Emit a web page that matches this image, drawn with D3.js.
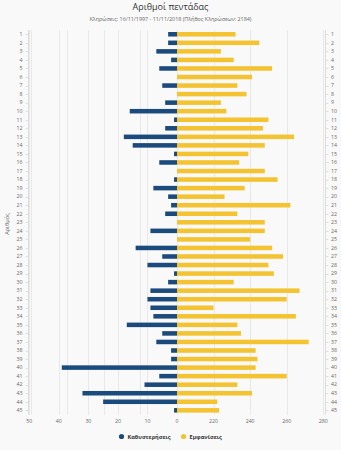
<!DOCTYPE html>
<html><head><meta charset="utf-8">
<script src="https://cdn.jsdelivr.net/npm/d3@7"></script>
<style>body{margin:0;background:#f9f9f9;}svg{display:block;font-family:"Open Sans","DejaVu Sans",sans-serif;}</style>
</head><body>
<svg id="c" width="341" height="450"></svg>
<script>
const numbers = d3.range(1, 46);
const delays = [3,3,7,2,6,0,5,0,4,16,1,4,18,15,1,6,0,1,8,3,2,4,0,9,0,14,5,10,1,3,9,10,9,8,17,5,7,2,2,39,6,11,32,25,1];
const appearances = [232,245,224,231,252,241,233,238,224,227,250,247,264,248,239,234,248,255,237,226,262,233,248,248,240,252,258,250,253,231,267,260,220,265,233,235,272,243,244,243,260,233,241,222,223];
const delayTicks = [50,40,30,20,10,0];
const appTicks = [120,140,160,180,200,220,240,260,280];
const appLabelTicks = [220,240,260,280];
const seriesNames = ["Καθυστερήσεις","Εμφανίσεις"];
const colors = ["#1b4a7c","#f4c331"];

const svg = d3.select("#c");
const W = 341;
const pLeft = 28.5, pRight = 325.5, pTop = 30, pBottom = 414.6;
const center = 177;

const xDelay = d3.scaleLinear().domain([50, 0]).range([29.3, center]);
const xApp = d3.scaleLinear().domain([200, 280]).range([center, 323.3]);
const y = d3.scaleBand().domain(numbers).range([pTop, pBottom]).paddingInner(0.47).paddingOuter(0.235);

svg.append("text").attr("x", W/2).attr("y", 10).attr("text-anchor","middle")
  .attr("font-size", 9).attr("fill","#333").text("Αριθμοί πεντάδας");
svg.append("text").attr("x", W/2).attr("y", 21).attr("text-anchor","middle")
  .attr("font-size", 5.4).attr("fill","#666").text("Κληρώσεις: 16/11/1997 - 11/11/2018 (Πλήθος Κληρώσεων: 2184)");

// gridlines
const g = svg.append("g");
g.selectAll("line.gd").data(delayTicks).join("line")
  .attr("x1", d => Math.round(xDelay(d))+0.5).attr("x2", d => Math.round(xDelay(d))+0.5)
  .attr("y1", pTop).attr("y2", pBottom).attr("stroke","#e8e8e8").attr("stroke-width",1);
g.selectAll("line.ga").data(appTicks).join("line")
  .attr("x1", d => Math.round(xApp(d))+0.5).attr("x2", d => Math.round(xApp(d))+0.5)
  .attr("y1", pTop).attr("y2", pBottom).attr("stroke","#e8e8e8").attr("stroke-width",1);

// axis lines
[pLeft, pRight].forEach(x => svg.append("line").attr("x1",x).attr("x2",x).attr("y1",pTop).attr("y2",pBottom).attr("stroke","#dcdcdc"));

// category labels
const lab = svg.append("g").attr("font-size", 5.2).attr("fill","#666");
lab.selectAll("text.l").data(numbers).join("text")
  .attr("x", 22.5).attr("y", d => y(d) + y.bandwidth()/2 + 1.8).attr("text-anchor","end").text(d => d);
lab.selectAll("text.r").data(numbers).join("text")
  .attr("x", 331).attr("y", d => y(d) + y.bandwidth()/2 + 1.8).attr("text-anchor","start").text(d => d);
svg.append("g").selectAll("line").data(numbers).join("line")
  .attr("x1", pLeft-3).attr("x2", pLeft).attr("y1", d => Math.round(y(d)+y.bandwidth()/2)+0.5).attr("y2", d => Math.round(y(d)+y.bandwidth()/2)+0.5)
  .attr("stroke","#e0e0e0");
svg.append("g").selectAll("line").data(numbers).join("line")
  .attr("x1", pRight).attr("x2", pRight+3).attr("y1", d => Math.round(y(d)+y.bandwidth()/2)+0.5).attr("y2", d => Math.round(y(d)+y.bandwidth()/2)+0.5)
  .attr("stroke","#e0e0e0");

svg.append("text").attr("transform","translate(9,224) rotate(-90)").attr("text-anchor","middle")
  .attr("font-size", 5.6).attr("fill","#666").text("Αριθμός");

// bars
svg.append("g").selectAll("rect").data(numbers).join("rect")
  .attr("x", (d,i) => xDelay(delays[i])).attr("width", (d,i) => xDelay(0) - xDelay(delays[i]))
  .attr("y", d => y(d)).attr("height", y.bandwidth()).attr("fill", colors[0]);
svg.append("g").selectAll("rect").data(numbers).join("rect")
  .attr("x", xApp(200)).attr("width", (d,i) => xApp(appearances[i]) - xApp(200))
  .attr("y", d => y(d)).attr("height", y.bandwidth()).attr("fill", colors[1]);

// x labels
const xl = svg.append("g").attr("font-size", 5.2).attr("fill","#666").attr("text-anchor","middle");
xl.selectAll("text.d").data(delayTicks).join("text").attr("x", d => xDelay(d)).attr("y", 423).text(d => d);
xl.selectAll("text.a").data(appLabelTicks).join("text").attr("x", d => xApp(d)).attr("y", 423).text(d => d);

// legend
const leg = svg.append("g").attr("font-size", 5.6).attr("fill","#333").attr("font-weight","bold");
const lx = [121.5, 183.5];
seriesNames.forEach((n, i) => {
  leg.append("circle").attr("cx", lx[i]).attr("cy", 436.5).attr("r", 2.6).attr("fill", colors[i]);
  leg.append("text").attr("x", lx[i] + 6).attr("y", 438.5).text(n);
});
</script>
</body></html>
